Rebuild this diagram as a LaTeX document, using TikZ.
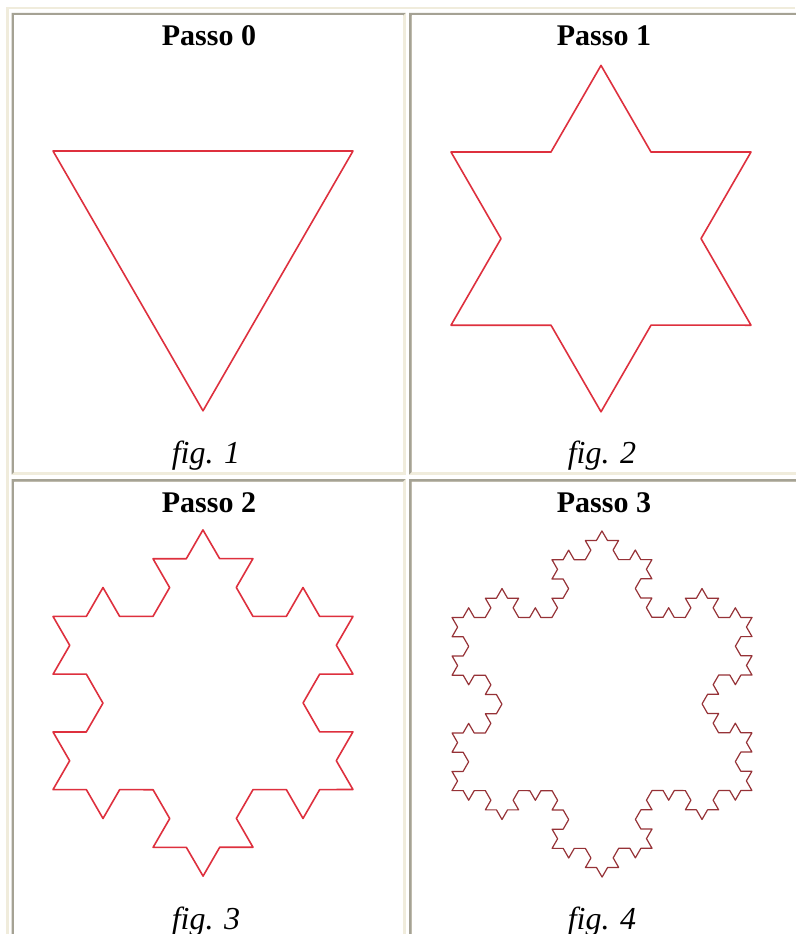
\documentclass[tikz,border=0pt]{standalone}
\usepackage{fontspec}
\setmainfont{Liberation Serif}
\definecolor{cellline}{RGB}{165,162,148}
\definecolor{celllight}{RGB}{240,236,220}
\definecolor{kochred}{RGB}{222,48,62}
\definecolor{kochdark}{RGB}{150,50,55}
\usetikzlibrary{decorations.fractals}

\begin{document}
\begin{tikzpicture}[
	x=1pt, y=-1pt,
	decoration=Koch snowflake,
	headtxt/.style={anchor=base, inner sep=0pt, font=\fontsize{30}{36}\selectfont\bfseries},
	captxt/.style={anchor=base, inner sep=0pt, font=\fontsize{32}{38}\selectfont\itshape},
	kochline/.style={draw=kochred, line width=1.6pt, line join=round, line cap=round}
]
	\path[use as bounding box, fill=white] (0,0) rectangle (795,934);
	\fill[celllight] (6,7) rectangle (795,9.5);
	\fill[celllight] (6,7) rectangle (8.5,934);
	\foreach \xa/\ya/\xb/\yb in {11.5/13/405.5/474.5, 409/13/802/474.5, 11.5/479/405.5/940, 409/479/802/940}{
		\fill[celllight] (\xa,\ya) rectangle (\xb,\yb);
		\fill[cellline] (\xa,\ya) -- (\xb,\ya) -- (\xb-2.5,\ya+2.5) -- (\xa+2.5,\ya+2.5) -- (\xa+2.5,\yb-2.5) -- (\xa,\yb) -- cycle;
		\fill[white] (\xa+2.5,\ya+2.5) rectangle (\xb-2.5,\yb-2.5);
	}

	\node[headtxt] (p0) at (209,46) {Passo 0};
	\node[headtxt] (p1) at (604,46) {Passo 1};
	\node[headtxt] (p2) at (209,512) {Passo 2};
	\node[headtxt] (p3) at (604,512) {Passo 3};
	\node[captxt] (f1) at (206,463) {fig. 1};
	\node[captxt] (f2) at (602,463) {fig. 2};
	\node[captxt] (f3) at (206,929) {fig. 3};
	\node[captxt] (f4) at (602,929) {fig. 4};

	\draw[kochline] (53,151) -- (353,151) -- (203,410.8) -- cycle;
	\draw[kochline] decorate{(451,152) -- (751,152) -- (601,411.8) -- (451,152)};
	\draw[kochline] decorate{decorate{(53,616.4) -- (353,616.4) -- (203,876.2) -- (53,616.4)}};
	\draw[kochline, draw=kochdark, line width=1.2pt] decorate{decorate{decorate{(452,617.4) -- (752,617.4) -- (602,877.2) -- (452,617.4)}}};
\end{tikzpicture}
\end{document}
